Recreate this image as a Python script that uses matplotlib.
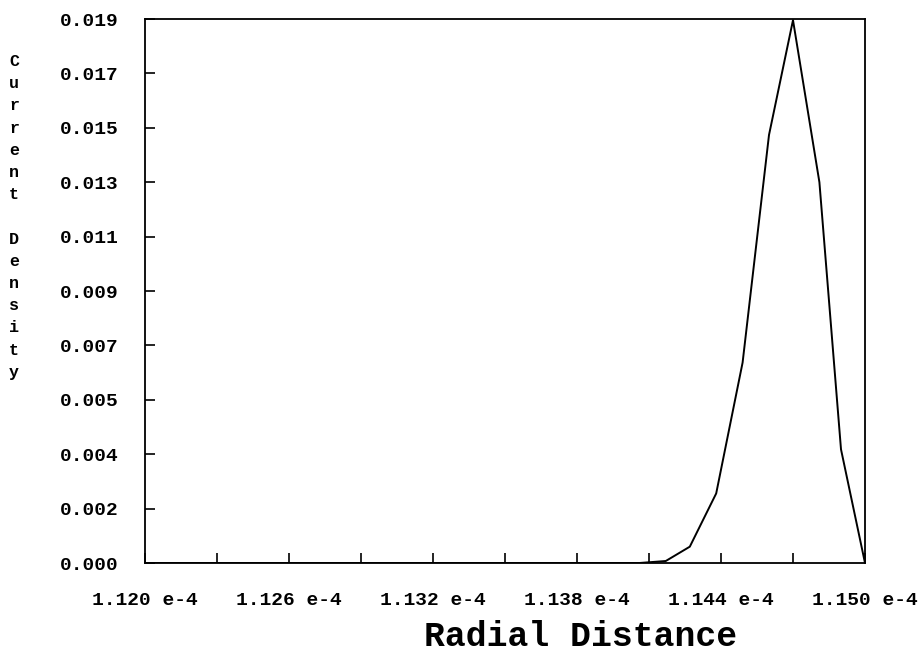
import matplotlib
matplotlib.use("Agg")
import matplotlib.pyplot as plt
import numpy as np

# radial distance in units of 1e-4
radius = [1.1200, 1.1406, 1.1417, 1.1427, 1.1438, 1.1449, 1.1460, 1.1470, 1.1481, 1.1490, 1.1500]
density = [0.0, 0.0, 0.00007, 0.00057, 0.00243, 0.00700, 0.01495, 0.01896, 0.01330, 0.00397, 0.0]

xticks = [1.120, 1.126, 1.132, 1.138, 1.144, 1.150]
xlabels = ["1.120 e-4", "1.126 e-4", "1.132 e-4", "1.138 e-4", "1.144 e-4", "1.150 e-4"]
ylabels = ["0.000", "0.002", "0.004", "0.005", "0.007", "0.009",
           "0.011", "0.013", "0.015", "0.017", "0.019"]

mono = "Liberation Mono"

fig = plt.figure(figsize=(9.2, 6.55), dpi=100)
ax = fig.add_axes([145/920, 1 - 563/655, 720/920, 544/655])

ax.plot(radius, density, color="black", lw=1.4)
ax.set_xlim(1.120, 1.150)
ax.set_ylim(0, 0.019)

yt = np.linspace(0, 0.019, 11)
ax.set_yticks(yt)
ax.set_yticklabels(ylabels, family=mono, fontweight="bold", fontsize=14)
ax.set_xticks(np.linspace(1.120, 1.150, 11), minor=True)
ax.set_xticks(xticks)
ax.set_xticklabels(xlabels, family=mono, fontweight="bold", fontsize=14)

ax.tick_params(axis="x", which="both", direction="in", length=7, width=1.2, pad=21)
ax.tick_params(axis="y", direction="in", length=7, width=1.2, pad=19)
for s in ax.spines.values():
    s.set_linewidth(1.3)

fig.text(581/920, 1 - 653/655, "Radial Distance", family=mono,
         fontweight="bold", fontsize=25, ha="center", va="bottom")

fig.text(14/920, 1 - 217/655, "\n".join("Current Density"), family=mono,
         fontweight="bold", fontsize=12, ha="center", va="center", linespacing=1.6)

fig.savefig("out.png", dpi=100)
